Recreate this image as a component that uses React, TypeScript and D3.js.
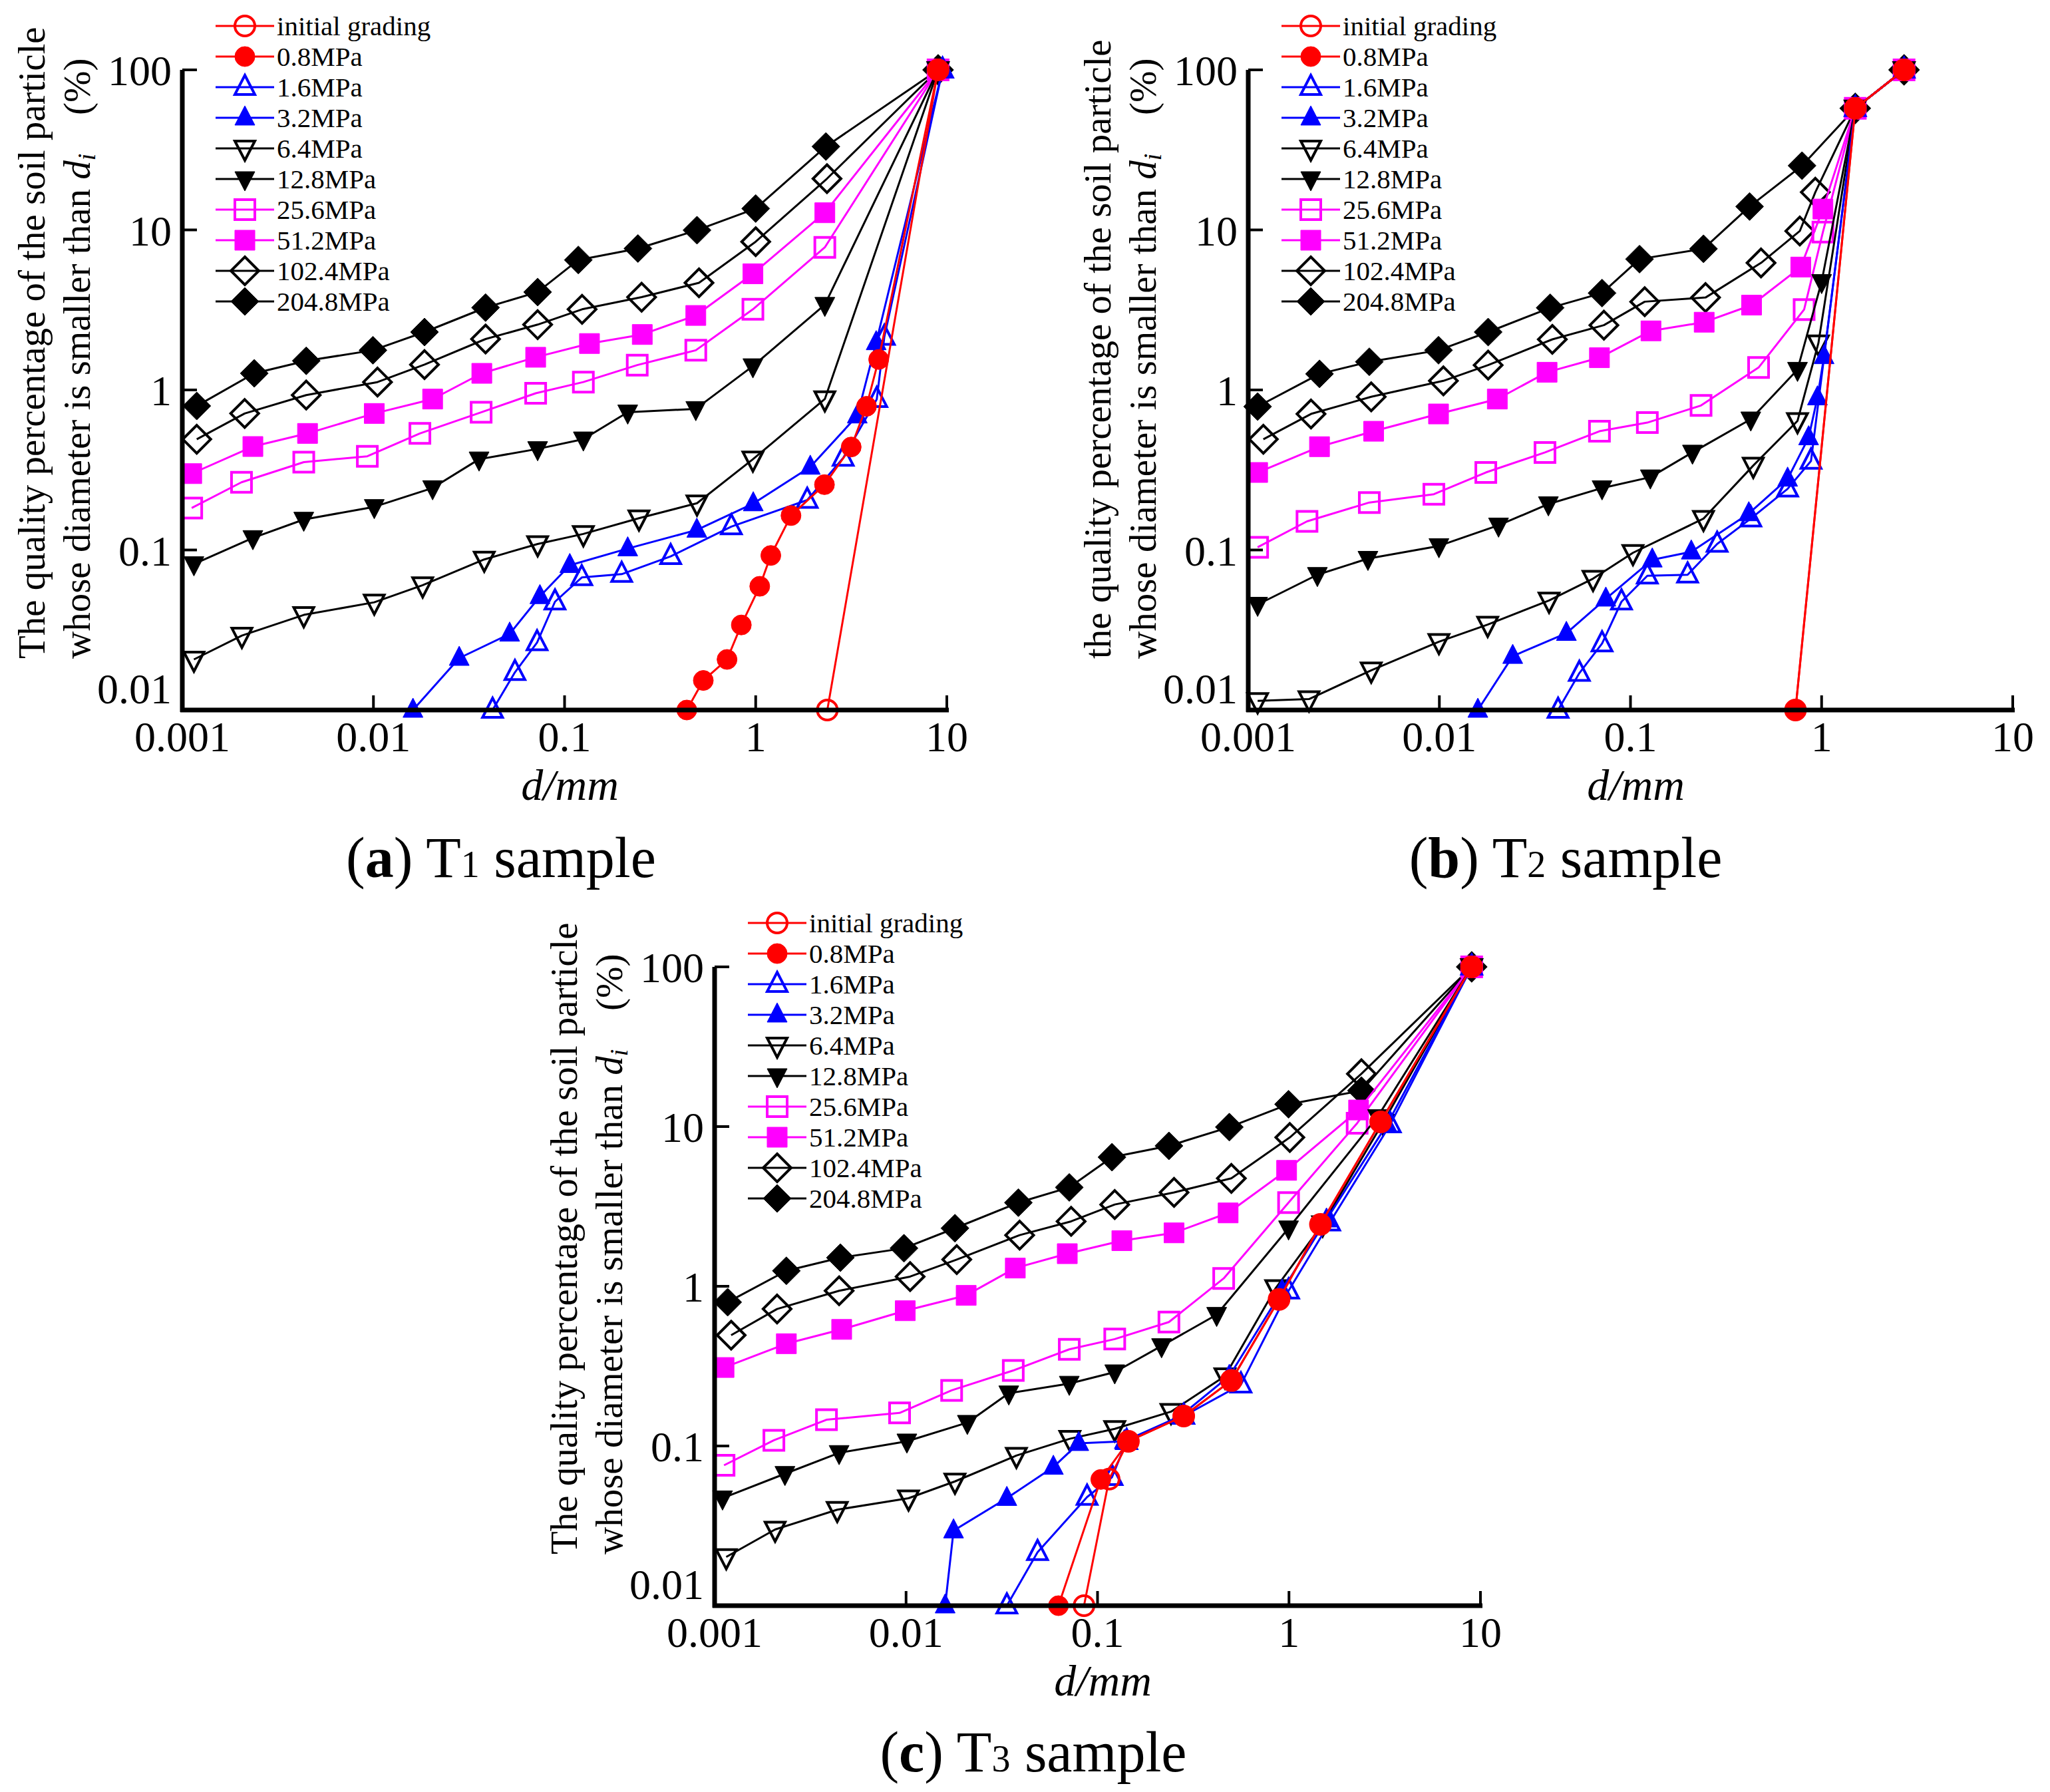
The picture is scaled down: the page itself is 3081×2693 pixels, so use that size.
import React from "react";
import * as d3 from "d3";

type Pt = [number, number];

// legend labels, in drawing order of the legend
const seriesNames = [
  "initial grading",
  "0.8MPa",
  "1.6MPa",
  "3.2MPa",
  "6.4MPa",
  "12.8MPa",
  "25.6MPa",
  "51.2MPa",
  "102.4MPa",
  "204.8MPa",
];

const xTicks = [0.001, 0.01, 0.1, 1, 10];
const xTickLabels = ["0.001", "0.01", "0.1", "1", "10"];
const yTicks = [0.01, 0.1, 1, 10, 100];
const yTickLabels = ["0.01", "0.1", "1", "10", "100"];

// ---- T1 sample: [d (mm), percent smaller] ----
const t1Initial: Pt[] = [[2.37, 0.01], [9, 100]];
const t1P0_8: Pt[] = [[0.436, 0.01], [0.532, 0.0153], [0.708, 0.0207], [0.841, 0.034], [1.05, 0.0593], [1.2, 0.0924], [1.53, 0.164], [2.29, 0.256], [3.16, 0.44], [3.8, 0.79], [4.4, 1.55], [9, 100]];
const t1P1_6: Pt[] = [[0.042, 0.01], [0.055, 0.0172], [0.0718, 0.0264], [0.0891, 0.0475], [0.123, 0.0673], [0.199, 0.0706], [0.359, 0.0912], [0.746, 0.14], [1.86, 0.205], [2.87, 0.376], [4.3, 0.875], [4.71, 2.14], [9.5, 100]];
const t1P3_2: Pt[] = [[0.0161, 0.01], [0.0281, 0.0211], [0.0516, 0.0299], [0.0743, 0.0513], [0.1065, 0.0802], [0.214, 0.102], [0.492, 0.1334], [0.971, 0.195], [1.93, 0.33], [3.4, 0.69], [4.27, 1.98], [9.5, 100]];
const t1P6_4: Pt[] = [[0.00115, 0.0207], [0.00205, 0.0292], [0.00432, 0.0393], [0.0101, 0.0471], [0.0181, 0.0603], [0.038, 0.0873], [0.0723, 0.109], [0.1254, 0.126], [0.245, 0.158], [0.493, 0.196], [0.967, 0.369], [2.3, 0.877], [9, 100]];
const t1P12_8: Pt[] = [[0.00115, 0.0817], [0.00234, 0.119], [0.00432, 0.155], [0.0101, 0.186], [0.0204, 0.244], [0.0357, 0.369], [0.0723, 0.428], [0.1254, 0.492], [0.214, 0.725], [0.486, 0.762], [0.967, 1.41], [2.3, 3.41], [9, 100]];
const t1P25_6: Pt[] = [[0.00112, 0.183], [0.00204, 0.265], [0.00432, 0.354], [0.00929, 0.385], [0.0175, 0.535], [0.0366, 0.725], [0.0706, 0.953], [0.1254, 1.12], [0.24, 1.43], [0.486, 1.77], [0.967, 3.19], [2.3, 7.78], [9, 100]];
const t1P51_2: Pt[] = [[0.00112, 0.3], [0.00234, 0.443], [0.00452, 0.535], [0.0101, 0.713], [0.0204, 0.877], [0.0369, 1.27], [0.0706, 1.6], [0.135, 1.95], [0.255, 2.22], [0.486, 2.92], [0.967, 5.32], [2.3, 12.8], [9, 100]];
const t1P102_4: Pt[] = [[0.00119, 0.492], [0.00212, 0.713], [0.00445, 0.929], [0.0105, 1.12], [0.0185, 1.44], [0.0386, 2.08], [0.0723, 2.56], [0.1235, 3.19], [0.253, 3.8], [0.505, 4.67], [1.0, 8.44], [2.36, 20.9], [9, 100]];
const t1P204_8: Pt[] = [[0.00119, 0.794], [0.00238, 1.27], [0.00445, 1.52], [0.00994, 1.77], [0.0185, 2.3], [0.0386, 3.27], [0.0723, 4.09], [0.118, 6.49], [0.242, 7.65], [0.493, 9.96], [1.0, 13.6], [2.33, 33.2], [9, 100]];

// ---- T2 sample ----
const t2Initial: Pt[] = [[0.73, 0.01], [1.5, 57.5], [2.7, 100]];
const t2P0_8: Pt[] = [[0.73, 0.01], [1.5, 57.5], [2.7, 100]];
const t2P1_6: Pt[] = [[0.0418, 0.01], [0.054, 0.017], [0.071, 0.026], [0.0897, 0.0475], [0.1225, 0.069], [0.199, 0.07], [0.284, 0.109], [0.426, 0.157], [0.664, 0.241], [0.88, 0.36], [1.5, 57.5], [2.7, 100]];
const t2P3_2: Pt[] = [[0.0159, 0.01], [0.0242, 0.0217], [0.0462, 0.0302], [0.0743, 0.0495], [0.13, 0.0869], [0.208, 0.0975], [0.416, 0.169], [0.664, 0.278], [0.855, 0.504], [0.951, 0.895], [1.03, 1.62], [1.5, 57.5], [2.7, 100]];
const t2P6_4: Pt[] = [[0.00112, 0.0114], [0.00208, 0.0117], [0.0044, 0.0177], [0.00995, 0.0267], [0.0179, 0.0342], [0.0375, 0.0484], [0.0637, 0.0662], [0.103, 0.096], [0.241, 0.157], [0.439, 0.337], [0.748, 0.641], [0.962, 1.96], [1.5, 57.5], [2.7, 100]];
const t2P12_8: Pt[] = [[0.00112, 0.0456], [0.0023, 0.07], [0.00423, 0.0883], [0.00995, 0.106], [0.0204, 0.1426], [0.0372, 0.1936], [0.071, 0.2438], [0.127, 0.285], [0.211, 0.407], [0.426, 0.656], [0.748, 1.34], [1.0, 4.74], [1.5, 57.5], [2.7, 100]];
const t2P25_6: Pt[] = [[0.00112, 0.104], [0.00203, 0.151], [0.0043, 0.198], [0.00936, 0.223], [0.0175, 0.305], [0.0357, 0.407], [0.0688, 0.552], [0.1225, 0.625], [0.234, 0.8], [0.468, 1.38], [0.81, 3.18], [1.016, 9.7], [1.5, 57.5], [2.7, 100]];
const t2P51_2: Pt[] = [[0.00112, 0.305], [0.00236, 0.442], [0.00453, 0.552], [0.0099, 0.708], [0.0201, 0.877], [0.0366, 1.29], [0.0688, 1.59], [0.128, 2.34], [0.243, 2.65], [0.43, 3.39], [0.778, 5.86], [1.016, 13.5], [1.5, 57.5], [2.7, 100]];
const t2P102_4: Pt[] = [[0.0012, 0.492], [0.00213, 0.708], [0.0044, 0.906], [0.0105, 1.14], [0.018, 1.43], [0.039, 2.07], [0.0726, 2.54], [0.1187, 3.56], [0.247, 3.78], [0.482, 6.22], [0.769, 9.84], [0.927, 17.2], [1.5, 57.5], [2.7, 100]];
const t2P204_8: Pt[] = [[0.00112, 0.787], [0.00236, 1.26], [0.0043, 1.5], [0.0099, 1.77], [0.018, 2.3], [0.038, 3.26], [0.071, 4.03], [0.1115, 6.57], [0.241, 7.62], [0.42, 14.0], [0.79, 25.2], [1.5, 57.5], [2.7, 100]];

// ---- T3 sample ----
const t3Initial: Pt[] = [[0.085, 0.01], [0.115, 0.062], [0.145, 0.107], [0.282, 0.154], [0.5, 0.257], [0.887, 0.828], [1.46, 2.44], [3.01, 10.7], [9, 100]];
const t3P0_8: Pt[] = [[0.0625, 0.01], [0.104, 0.0617], [0.145, 0.107], [0.282, 0.154], [0.5, 0.257], [0.887, 0.828], [1.46, 2.44], [3.01, 10.7], [9, 100]];
const t3P1_6: Pt[] = [[0.0336, 0.01], [0.0486, 0.0216], [0.0882, 0.0479], [0.119, 0.0637], [0.142, 0.107], [0.282, 0.154], [0.561, 0.242], [0.995, 0.937], [1.63, 2.5], [3.38, 10.3], [9, 100]];
const t3P3_2: Pt[] = [[0.016, 0.01], [0.0177, 0.0295], [0.0336, 0.0471], [0.0588, 0.0738], [0.0798, 0.104], [0.138, 0.107], [0.271, 0.154], [0.488, 0.274], [0.92, 0.937], [1.57, 2.61], [3.25, 10.3], [9, 100]];
const t3P6_4: Pt[] = [[0.00115, 0.0202], [0.00207, 0.03], [0.00437, 0.0399], [0.0103, 0.0471], [0.018, 0.06], [0.0377, 0.0871], [0.0717, 0.111], [0.123, 0.128], [0.242, 0.164], [0.463, 0.274], [0.853, 0.976], [1.5, 2.45], [3.1, 10.6], [9, 100]];
const t3P12_8: Pt[] = [[0.0011, 0.0471], [0.00233, 0.067], [0.00447, 0.0906], [0.0101, 0.107], [0.0209, 0.14], [0.0344, 0.214], [0.0712, 0.246], [0.123, 0.29], [0.216, 0.423], [0.419, 0.664], [0.995, 2.31], [2.9, 11.5], [9, 100]];
const t3P25_6: Pt[] = [[0.00112, 0.0757], [0.00204, 0.1086], [0.00384, 0.146], [0.00925, 0.161], [0.0173, 0.223], [0.0363, 0.297], [0.0712, 0.403], [0.123, 0.467], [0.236, 0.597], [0.456, 1.12], [0.995, 3.34], [2.27, 10.5], [9, 100]];
const t3P51_2: Pt[] = [[0.00112, 0.31], [0.00237, 0.437], [0.00461, 0.537], [0.0099, 0.703], [0.0206, 0.877], [0.0372, 1.3], [0.0695, 1.6], [0.134, 1.93], [0.251, 2.16], [0.481, 2.88], [0.972, 5.32], [2.31, 12.7], [9, 100]];
const t3P102_4: Pt[] = [[0.00122, 0.494], [0.00212, 0.721], [0.00447, 0.937], [0.0105, 1.15], [0.0184, 1.47], [0.0392, 2.09], [0.0728, 2.55], [0.123, 3.25], [0.251, 3.87], [0.5, 4.74], [1.01, 8.55], [2.39, 21.4], [9, 100]];
const t3P204_8: Pt[] = [[0.00117, 0.795], [0.00237, 1.25], [0.00454, 1.51], [0.00975, 1.73], [0.018, 2.31], [0.0386, 3.34], [0.0712, 4.16], [0.119, 6.43], [0.236, 7.57], [0.488, 9.92], [0.995, 13.8], [2.39, 16.8], [9, 100]];

const t1Series = [t1Initial, t1P0_8, t1P1_6, t1P3_2, t1P6_4, t1P12_8, t1P25_6, t1P51_2, t1P102_4, t1P204_8];
const t2Series = [t2Initial, t2P0_8, t2P1_6, t2P3_2, t2P6_4, t2P12_8, t2P25_6, t2P51_2, t2P102_4, t2P204_8];
const t3Series = [t3Initial, t3P0_8, t3P1_6, t3P3_2, t3P6_4, t3P12_8, t3P25_6, t3P51_2, t3P102_4, t3P204_8];

type Shape = "circle" | "triUp" | "triDown" | "square" | "diamond";
const styles: { color: string; shape: Shape; filled: boolean }[] = [
  { color: "#ff0000", shape: "circle", filled: false },
  { color: "#ff0000", shape: "circle", filled: true },
  { color: "#0000ff", shape: "triUp", filled: false },
  { color: "#0000ff", shape: "triUp", filled: true },
  { color: "#000000", shape: "triDown", filled: false },
  { color: "#000000", shape: "triDown", filled: true },
  { color: "#ff00ff", shape: "square", filled: false },
  { color: "#ff00ff", shape: "square", filled: true },
  { color: "#000000", shape: "diamond", filled: false },
  { color: "#000000", shape: "diamond", filled: true },
];

const FONT = "'Liberation Serif', 'Times New Roman', serif";

function markerPath(shape: Shape) {
  switch (shape) {
    case "circle":
      return d3.symbol(d3.symbolCircle, Math.PI * 15 * 15)() as string;
    case "triUp":
      return "M0,-18L15,11L-15,11Z";
    case "triDown":
      return "M0,18L15,-11L-15,-11Z";
    case "square":
      return "M-15,-15H15V15H-15Z";
    default:
      return "M0,-21L21,0L0,21L-21,0Z";
  }
}

function Marker({ i, x, y }: { i: number; x: number; y: number }) {
  const s = styles[i];
  return (
    <path
      d={markerPath(s.shape)}
      transform={`translate(${x},${y})`}
      fill={s.filled ? s.color : "none"}
      stroke={s.color}
      strokeWidth={s.filled ? 1 : 4}
    />
  );
}

type PanelProps = {
  x0: number;
  x1: number;
  yTop: number;
  yBottom: number;
  series: Pt[][];
  titleFirst: string;
  letter: string;
  sub: string;
  capX: number;
  capY: number;
};

function Panel({ x0, x1, yTop, yBottom, series, titleFirst, letter, sub, capX, capY }: PanelProps) {
  const x = d3.scaleLog().domain([0.001, 10]).range([x0, x1]);
  const y = d3.scaleLog().domain([0.01, 100]).range([yBottom, yTop]);
  const line = d3
    .line<Pt>()
    .x((d) => x(d[0]))
    .y((d) => y(d[1]));

  // later pressures are drawn first so the red/blue curves sit on top
  const order = d3.range(series.length).reverse();

  return (
    <g fontFamily={FONT}>
      {order.map((i) => (
        <g key={i}>
          <path d={line(series[i]) || ""} fill="none" stroke={styles[i].color} strokeWidth={3} strokeLinejoin="round" />
          {series[i].map((d, j) => (
            <Marker key={j} i={i} x={x(d[0])} y={y(d[1])} />
          ))}
        </g>
      ))}

      {/* axes */}
      <line x1={x0} x2={x0} y1={yTop} y2={yBottom + 3} stroke="#000" strokeWidth={7} />
      <line x1={x0 - 3} x2={x1 + 3} y1={yBottom} y2={yBottom} stroke="#000" strokeWidth={7} />
      {xTicks.map((t, k) => (
        <g key={"xt" + k}>
          <line x1={x(t)} x2={x(t)} y1={yBottom} y2={yBottom - 22} stroke="#000" strokeWidth={4} />
          <text x={x(t)} y={yBottom + 62} textAnchor="middle" fontSize={64}>
            {xTickLabels[k]}
          </text>
        </g>
      ))}
      {yTicks.map((t, k) => (
        <g key={"yt" + k}>
          <line x1={x0} x2={x0 + 22} y1={y(t)} y2={y(t)} stroke="#000" strokeWidth={4} />
          <text x={x0 - 16} y={y(t) + (k === 0 ? -10 : 23)} textAnchor="end" fontSize={64}>
            {yTickLabels[k]}
          </text>
        </g>
      ))}

      {/* axis titles */}
      <text x={(x0 + x1) / 2 + 8} y={yBottom + 135} textAnchor="middle" fontSize={66} fontStyle="italic">
        d/mm
      </text>
      <g transform={`translate(${x0 - 207},${yBottom - 77}) rotate(-90)`}>
        <text x={0} y={0} fontSize={57}>
          {titleFirst}
        </text>
      </g>
      <g transform={`translate(${x0 - 139},${yBottom - 77}) rotate(-90)`}>
        <text x={0} y={0} fontSize={57}>
          {"whose diameter is smaller than "}
          <tspan fontStyle="italic">d</tspan>
          <tspan fontStyle="italic" fontSize={38} dy={8}>
            i
          </tspan>
        </text>
        <text x={817} y={0} fontSize={57}>
          (%)
        </text>
      </g>

      {/* legend */}
      {seriesNames.map((name, i) => {
        const ly = yTop - 66 + i * 46;
        return (
          <g key={"lg" + i}>
            <line x1={x0 + 50} x2={x0 + 138} y1={ly} y2={ly} stroke={styles[i].color} strokeWidth={3} />
            <Marker i={i} x={x0 + 94} y={ly} />
            <text x={x0 + 142} y={ly + 14} fontSize={41}>
              {name}
            </text>
          </g>
        );
      })}

      {/* caption */}
      <text x={capX} y={capY} textAnchor="middle" fontSize={86}>
        {"("}
        <tspan fontWeight="bold">{letter}</tspan>
        {") T"}
        <tspan fontSize={56}>{sub}</tspan>
        {" sample"}
      </text>
    </g>
  );
}

export default function App() {
  return (
    <svg
      width={3081}
      height={2693}
      style={{ position: "absolute", left: 0, top: 0, background: "#fff" }}
    >
      <rect width={3081} height={2693} fill="#fff" />
      <Panel
        x0={274}
        x1={1423}
        yTop={105}
        yBottom={1067}
        series={t1Series}
        titleFirst="The quality percentage of the soil particle"
        letter="a"
        sub="1"
        capX={753}
        capY={1318}
      />
      <Panel
        x0={1876}
        x1={3025}
        yTop={105}
        yBottom={1067}
        series={t2Series}
        titleFirst="the quality percentage of the soil particle"
        letter="b"
        sub="2"
        capX={2353}
        capY={1318}
      />
      <Panel
        x0={1074}
        x1={2225}
        yTop={1453}
        yBottom={2413}
        series={t3Series}
        titleFirst="The quality percentage of the soil particle"
        letter="c"
        sub="3"
        capX={1553}
        capY={2662}
      />
    </svg>
  );
}
